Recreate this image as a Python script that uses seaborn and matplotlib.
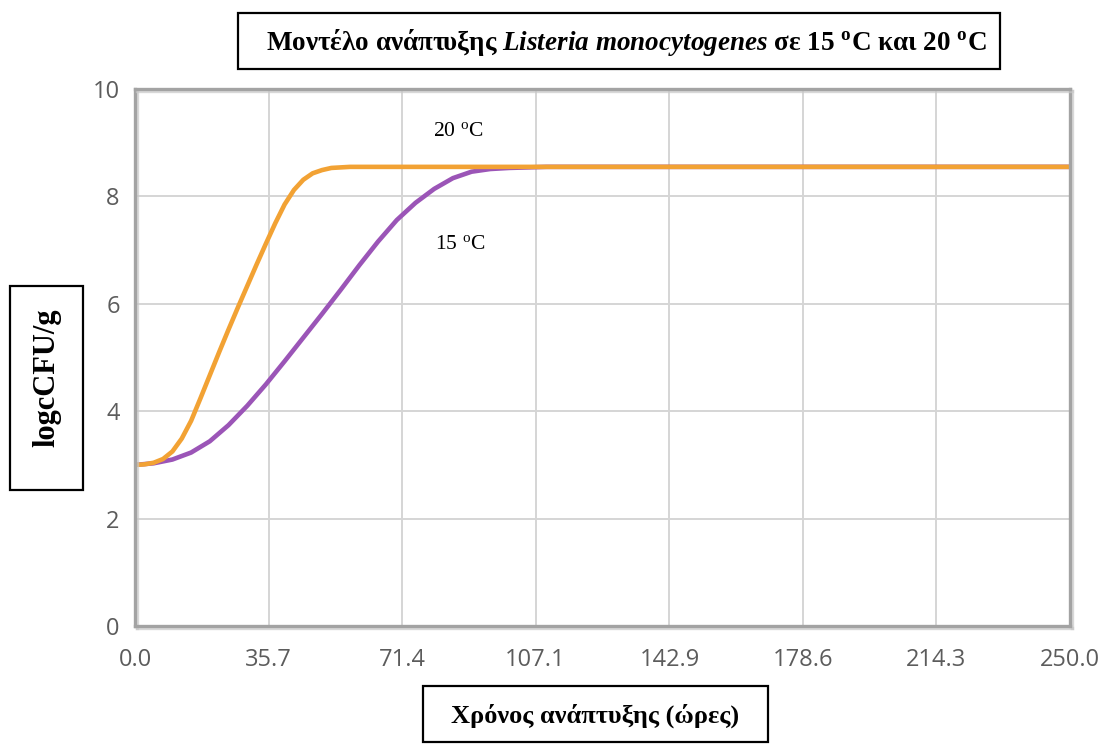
import numpy as np
import pandas as pd
import matplotlib
matplotlib.use("Agg")
import matplotlib.pyplot as plt
import matplotlib.patheffects as pe
from matplotlib.patches import Rectangle
import seaborn as sns

# ---- data ----
time_20 = [0, 2.5, 5, 7.5, 10, 12.5, 15, 17.5, 20, 22.5, 25, 27.5, 30, 32.5, 35,
           37.5, 40, 42.5, 45, 47.5, 50, 52.5, 55, 57.5, 60, 250]
logcfu_20 = [3.00, 3.01, 3.04, 3.11, 3.25, 3.49, 3.82, 4.24, 4.67, 5.10, 5.52, 5.93,
             6.33, 6.73, 7.12, 7.50, 7.85, 8.12, 8.31, 8.43, 8.49, 8.53, 8.54, 8.55,
             8.55, 8.55]

time_15 = [0, 5, 10, 15, 20, 25, 30, 35, 40, 45, 50, 55, 60, 65, 70, 75, 80, 85,
           90, 95, 100, 105, 110, 250]
logcfu_15 = [3.00, 3.03, 3.10, 3.23, 3.44, 3.74, 4.10, 4.50, 4.93, 5.37, 5.81, 6.26,
             6.72, 7.16, 7.56, 7.88, 8.14, 8.34, 8.46, 8.51, 8.53, 8.54, 8.55, 8.55]

x_ticks = [0.0, 35.7, 71.4, 107.1, 142.9, 178.6, 214.3, 250.0]
x_tick_labels = ["0.0", "35.7", "71.4", "107.1", "142.9", "178.6", "214.3", "250.0"]
y_ticks = [0, 2, 4, 6, 8, 10]

title_text = ("Μοντέλο ανάπτυξης $\\mathit{Listeria\\ monocytogenes}$ σε 15 "
              "$^{\\mathrm{o}}$C και 20 $^{\\mathrm{o}}$C")
x_label = "Χρόνος ανάπτυξης (ώρες)"
y_label = "logcCFU/g"
label_20 = "20 $^{\\mathsf{o}}$C"
label_15 = "15 $^{\\mathsf{o}}$C"

orange = "#F2A234"
purple = "#9B55B7"

# ---- style ----
sns.set_theme(style="white")
plt.rcParams['font.family'] = ['DejaVu Sans']
plt.rcParams['mathtext.fontset'] = 'custom'
plt.rcParams['mathtext.rm'] = 'Liberation Serif:bold'
plt.rcParams['mathtext.it'] = 'Liberation Serif:italic:bold'
plt.rcParams['mathtext.sf'] = 'Liberation Serif'

W, H = 1104, 744
fig = plt.figure(figsize=(W / 100, H / 100), dpi=100)
ax = fig.add_axes([135 / W, 1 - 626 / H, 935 / W, 537 / H])

df15 = pd.DataFrame({"t": time_15, "v": logcfu_15})
df20 = pd.DataFrame({"t": time_20, "v": logcfu_20})
sns.lineplot(data=df15, x="t", y="v", color=purple, linewidth=3.3, ax=ax,
             solid_capstyle="round", solid_joinstyle="round")
sns.lineplot(data=df20, x="t", y="v", color=orange, linewidth=3.3, ax=ax,
             solid_capstyle="round", solid_joinstyle="round")

ax.set_xlim(0, 250)
ax.set_ylim(0, 10)
ax.set_xticks(x_ticks)
ax.set_xticklabels(x_tick_labels)
ax.set_yticks(y_ticks)
ax.set_xlabel("")
ax.set_ylabel("")
ax.grid(True, color="#D5D5D5", linewidth=1.4)
ax.set_axisbelow(True)

for s in ax.spines.values():
    s.set_visible(True)
    s.set_color("#A3A3A3")
    s.set_linewidth(2.4)
    s.set_path_effects([pe.SimpleLineShadow(offset=(1.5, -1.5), shadow_color="#C8C8C8",
                                            alpha=0.7), pe.Normal()])

ax.tick_params(axis="both", direction="out", length=7, width=1.6, color="#A3A3A3",
               labelcolor="#5C5C5C", labelsize=17)
ax.tick_params(axis="x", pad=9)
ax.tick_params(axis="y", pad=4)
for lab in ax.get_xticklabels() + ax.get_yticklabels():
    lab.set_fontfamily(["Open Sans", "DejaVu Sans"])

# inline labels
ax.text(86.4, 9.2, label_20, ha="center", va="center", fontsize=15.5,
        fontfamily="Liberation Serif", color="black")
ax.text(87.0, 7.1, label_15, ha="center", va="center", fontsize=15.5,
        fontfamily="Liberation Serif", color="black")

# boxed titles
def box(x0, y0, x1, y1):
    fig.add_artist(Rectangle((x0 / W, 1 - y1 / H), (x1 - x0) / W, (y1 - y0) / H,
                             transform=fig.transFigure, fill=False,
                             edgecolor="black", linewidth=1.6))

box(238, 13, 1000, 69)
fig.text(626 / W, 1 - 42 / H, title_text, ha="center", va="center",
         fontsize=19.5, fontfamily="Liberation Serif", fontweight="bold", color="black")

box(10, 286, 83, 490)
fig.text(47 / W, 1 - 378 / H, y_label, ha="center", va="center", rotation=90,
         fontsize=22, fontfamily="Liberation Serif", fontweight="bold", color="black")

box(423, 686, 768, 742)
fig.text((423 + 768) / 2 / W, 1 - 716 / H, x_label, ha="center", va="center",
         fontsize=19, fontfamily="Liberation Serif", fontweight="bold", color="black")

fig.savefig("out.png", dpi=100, facecolor="white")
